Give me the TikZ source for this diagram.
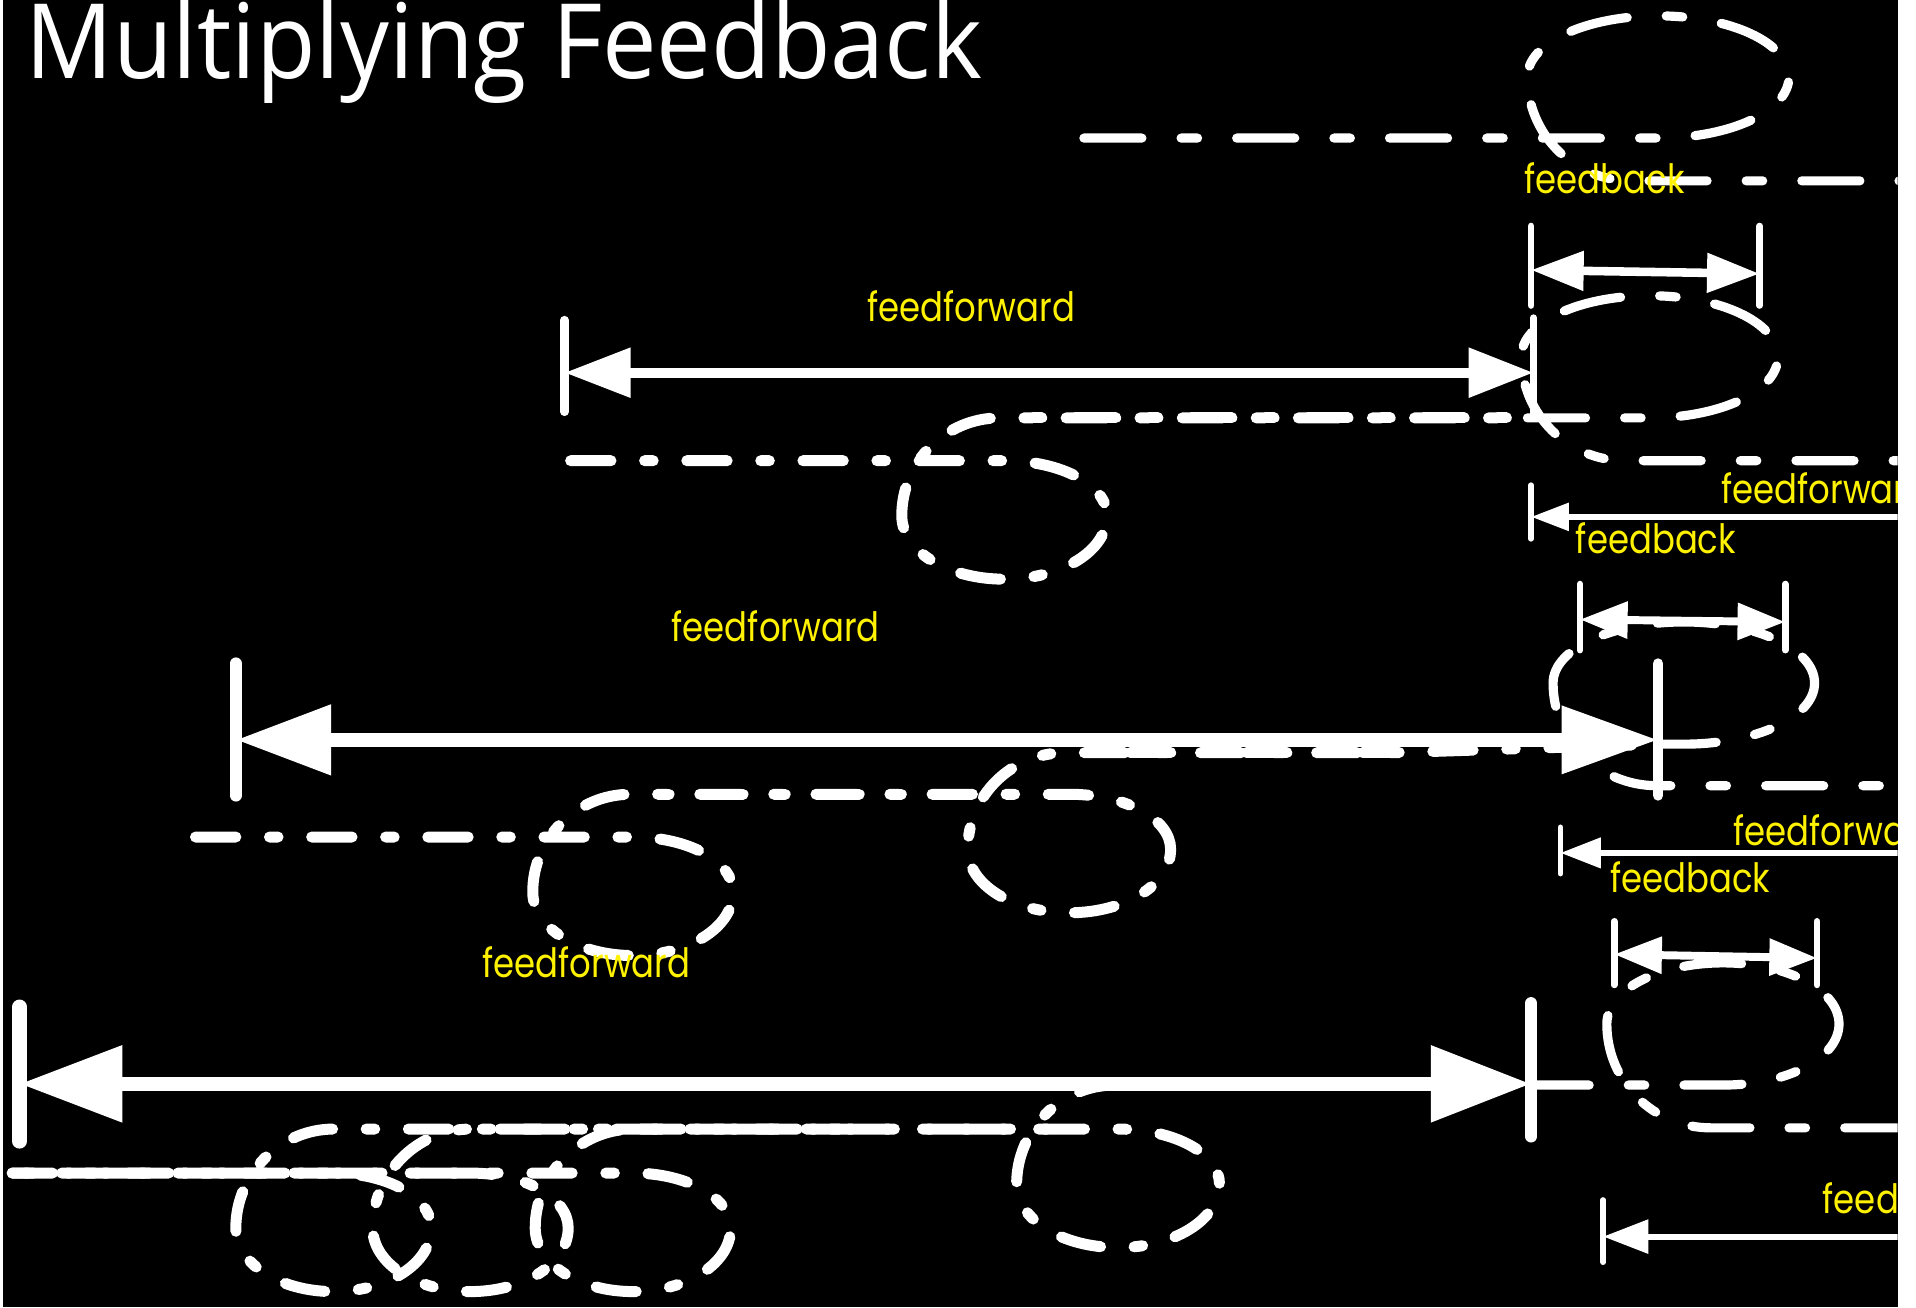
\documentclass[tikz,border=0pt]{standalone}
\usepackage{fontspec}
\usetikzlibrary{arrows.meta}
\newfontfamily\titlefont[FakeStretch=0.935]{Open Sans}
\newfontfamily\lblfont[FakeStretch=0.84]{Poppins}
% clockwise loop below the line, leaving upward: cx, yin, rx, yout
\newcommand\cwl[4]{-- (#1,#2) .. controls ({#1+0.552*#3},#2) and ({#1+#3},{#2+20}) .. ({#1+#3},{#2+45}) .. controls ({#1+#3},{#2+74}) and ({#1+0.552*#3},{#2+97}) .. (#1,{#2+97}) .. controls ({#1-0.552*#3},{#2+97}) and ({#1-#3},{#2+74}) .. ({#1-#3},{#2+45}) .. controls ({#1-#3},{#2+1}) and ({#1-#3+36},{#4}) .. ({#1-#3+80},{#4})}
% counter-clockwise loop above the line, leaving downward: cx, yin, rx, yout
\newcommand\ccwl[4]{-- (#1,#2) .. controls ({#1+0.552*#3},#2) and ({#1+#3},{#2-22}) .. ({#1+#3},{#2-50}) .. controls ({#1+#3},{#2-78}) and ({#1+0.552*#3},{#2-100}) .. (#1,{#2-100}) .. controls ({#1-0.552*#3},{#2-100}) and ({#1-#3},{#2-78}) .. ({#1-#3},{#2-50}) .. controls ({#1-#3},{#2-3}) and ({#1-#3+38},{#4}) .. ({#1-#3+85},{#4})}
\begin{document}
\begin{tikzpicture}[x=0.01cm, y=-0.01cm,
  sd/.style={white, line width=0.09cm, line cap=round, dash pattern=on 0.33cm off 0.275cm on 0.07cm off 0.275cm},
  bd/.style={white, line width=0.075cm, line cap=round, dash pattern=on 0.475cm off 0.32cm on 0.135cm off 0.32cm},
  bar/.style={white, line cap=round},
  lbl/.style={anchor=base west, inner sep=0, text=yellow, font=\lblfont\fontsize{9.4}{11}\selectfont},
  ttl/.style={anchor=base west, inner sep=0, text=white, font=\titlefont\fontsize{24.2}{28}\selectfont}]
\useasboundingbox (0,0) rectangle (1568,1070);
\fill[white] (0,0) rectangle (1568,1070);
\fill[black] (2.5,0) rectangle (1553,1070);
\begin{scope}
\clip (2.5,0) rectangle (1553,1070);
% ---------- dash-dot paths with loops ----------
% level A
\draw[bd] (887,113) \ccwl{1357}{113}{107}{148} -- (1570,148);
% level B
\draw[sd] (467,377) \cwl{822}{377}{84}{342} -- (1250,342);
\draw[sd, dash phase=0.45cm] (830,342) -- (1250,342);
\draw[bd] (1250,342) \ccwl{1350}{342}{105}{377} -- (1570,377);
% level C
\draw[sd] (160,685) \cwl{518}{685}{82}{650} \cwl{875}{650}{83}{616} -- (1140,616) -- (1357,609);
\draw[sd, dash phase=0.45cm] (525,650) -- (790,650);
\draw[sd, dash phase=0.5cm] (880,616) -- (1140,616);
\draw[bd] (1357,609) \ccwl{1378}{609}{107}{643} -- (1570,643);
% level D
\draw[sd] (10,960) \cwl{273}{960}{80}{924} -- (700,924);
\draw[sd, dash phase=0.2cm] (10,960) \cwl{385}{960}{80}{924} -- (880,924);
\draw[sd, dash phase=0.5cm] (10,960) \cwl{518}{960}{80}{924} \cwl{915}{924}{83}{888} -- (1253,888);
\draw[bd] (1253,888) \ccwl{1410}{888}{95}{923} -- (1570,923);
% ---------- coordinates ----------
\coordinate (aL) at (1253,221); \coordinate (aR) at (1440,224);
\coordinate (bL) at (462,305); \coordinate (bR) at (1255,305);
\coordinate (brL) at (1253,423); \coordinate (brE) at (1570,423);
\coordinate (bdL) at (1293,507); \coordinate (bdR) at (1461,509);
\coordinate (cL) at (193,605.5); \coordinate (cR) at (1357,605.5);
\coordinate (crL) at (1277,698); \coordinate (crE) at (1570,698);
\coordinate (cdL) at (1321,781); \coordinate (cdR) at (1487,784);
\coordinate (dL) at (16,887); \coordinate (dR) at (1253,887);
\coordinate (drL) at (1312,1012); \coordinate (drE) at (1570,1012);
% ---------- bars ----------
\draw[bar, line width=0.055cm] (1253,185) -- (1253,250) (1440,185) -- (1440,250);
\draw[bar, line width=0.07cm] (462,262) -- (462,337);
\draw[bar, line width=0.055cm] (1255,260) -- (1255,338);
\draw[bar, line width=0.045cm] (1253,397) -- (1253,441);
\draw[bar, line width=0.055cm] (1293,478) -- (1293,532) (1461,478) -- (1461,532);
\draw[bar, line width=0.10cm] (193,543) -- (193,651);
\draw[bar, line width=0.085cm] (1357,543) -- (1357,651);
\draw[bar, line width=0.045cm] (1277,677) -- (1277,715);
\draw[bar, line width=0.055cm] (1321,754) -- (1321,806) (1487,754) -- (1487,806);
\draw[bar, line width=0.12cm] (16,824) -- (16,934);
\draw[bar, line width=0.10cm] (1253,821) -- (1253,930);
\draw[bar, line width=0.045cm] (1312,982) -- (1312,1033);
% ---------- arrows ----------
\draw[white, line width=0.07cm, {Triangle[length=0.43cm,width=0.31cm]}-{Triangle[length=0.43cm,width=0.31cm]}] (aL) -- (aR);
\draw[white, line width=0.08cm, {Triangle[length=0.54cm,width=0.39cm]}-{Triangle[length=0.53cm,width=0.39cm]}] (bL) -- (bR);
\draw[white, line width=0.05cm, -{Triangle[length=0.31cm,width=0.22cm]}] (brE) -- (brL);
\draw[white, line width=0.065cm, {Triangle[length=0.39cm,width=0.29cm]}-{Triangle[length=0.39cm,width=0.29cm]}] (bdL) -- (bdR);
\draw[white, line width=0.115cm, {Triangle[length=0.78cm,width=0.55cm]}-{Triangle[length=0.79cm,width=0.53cm]}] (cL) -- (cR);
\draw[white, line width=0.05cm, -{Triangle[length=0.33cm,width=0.24cm]}] (crE) -- (crL);
\draw[white, line width=0.065cm, {Triangle[length=0.39cm,width=0.29cm]}-{Triangle[length=0.39cm,width=0.29cm]}] (cdL) -- (cdR);
\draw[white, line width=0.117cm, {Triangle[length=0.84cm,width=0.6cm]}-{Triangle[length=0.82cm,width=0.6cm]}] (dL) -- (dR);
\draw[white, line width=0.05cm, -{Triangle[length=0.37cm,width=0.27cm]}] (drE) -- (drL);
% ---------- labels ----------
\node[lbl] (fbA) at (1247,158) {feedback};
\node[lbl] (ffB) at (709,263.5) {feedforward};
\node[lbl] (ffBr) at (1408,412) {feedforward};
\node[lbl] (fbB) at (1289,452.6) {feedback};
\node[lbl] (ffC) at (549,525) {feedforward};
\node[lbl] (ffCr) at (1418,692) {feedforward};
\node[lbl] (fbC) at (1317,730) {feedback};
\node[lbl] (ffD) at (394,800) {feedforward};
\node[lbl] (ffDr) at (1491,993) {feedforward};
\node[ttl] (title) at (20,64) {Multiplying Feedback};
\end{scope}
\end{tikzpicture}
\end{document}
